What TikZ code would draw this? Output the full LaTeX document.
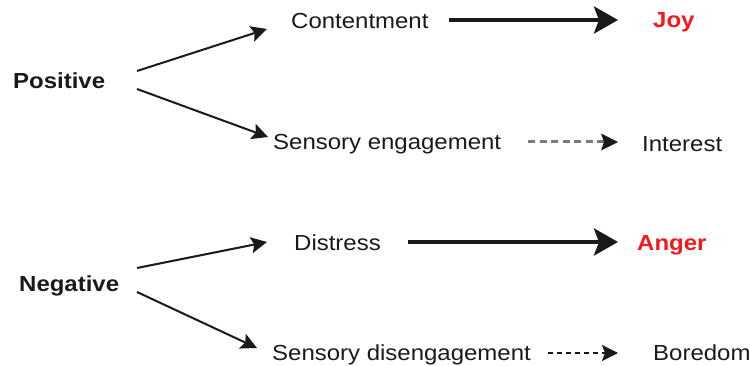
\documentclass[tikz,border=0pt]{standalone}
\usepackage{fontspec}
\setmainfont{Liberation Sans}[FakeStretch=1.1]
\usetikzlibrary{arrows.meta}
\definecolor{inkdark}{HTML}{1A1A1A}
\definecolor{hotred}{HTML}{F21B1B}
\definecolor{dashgray}{HTML}{7A7A7A}
\begin{document}
\begin{tikzpicture}[x=1pt,y=-1pt,
  label/.style={inner sep=0pt,anchor=base west,text=inkdark,
    font=\fontsize{21.8}{26}\selectfont},
  group/.style={label,font=\fontsize{21.8}{26}\selectfont\bfseries},
  emotion/.style={label,text=hotred,font=\fontsize{21.8}{26}\selectfont\bfseries},
  branch/.style={draw=inkdark,line width=2pt,
    -{Stealth[length=16pt,width=16pt,inset=3pt]}},
  strong/.style={draw=inkdark,line width=4.2pt,
    -{Stealth[length=24pt,width=27pt,inset=5pt]}},
  weak/.style={draw=dashgray,line width=3pt,dash pattern=on 7pt off 4.5pt,
    -{Stealth[length=17pt,width=17pt,inset=3pt,color=inkdark,line width=0pt]}},
  faint/.style={draw=inkdark,line width=2pt,dash pattern=on 5pt off 4pt,
    -{Stealth[length=16pt,width=16pt,inset=3pt]}}]
\useasboundingbox (0,0) rectangle (750,366);

% positive branch
\node[group]   (pos)  at (13,89)   {Positive};
\node[label]   (cont) at (291,29)  {Contentment};
\node[emotion] (joy)  at (653,28)  {Joy};
\node[label]   (seng) at (273,150) {Sensory engagement};
\node[label]   (int)  at (642,152) {Interest};

% negative branch
\node[group]   (neg)  at (19,291)  {Negative};
\node[label]   (dist) at (294,251) {Distress};
\node[emotion] (ang)  at (637,251) {Anger};
\node[label]   (sdis) at (272,360) {Sensory disengagement};
\node[label]   (bor)  at (653,360) {Boredom};

% connectors
\draw[branch] ([shift={(124,-18)}]pos.base west) -- ([shift={(-24,0)}]cont.base west);
\draw[branch] ([shift={(124,0)}]pos.base west)   -- ([shift={(-5,-13)}]seng.base west);
\draw[strong] ([shift={(158,-9)}]cont.base west) -- ([shift={(-35,-8)}]joy.base west);
\draw[weak]   ([shift={(255,-8)}]seng.base west) -- ([shift={(-24,-10)}]int.base west);

\draw[branch] ([shift={(118,-23)}]neg.base west) -- ([shift={(-27,-9)}]dist.base west);
\draw[branch] ([shift={(118,1)}]neg.base west)   -- ([shift={(-15,-12)}]sdis.base west);
\draw[strong] ([shift={(114,-9)}]dist.base west) -- ([shift={(-19,-9)}]ang.base west);
\draw[faint]  ([shift={(276,-7)}]sdis.base west) -- ([shift={(-35,-7)}]bor.base west);
\end{tikzpicture}
\end{document}
